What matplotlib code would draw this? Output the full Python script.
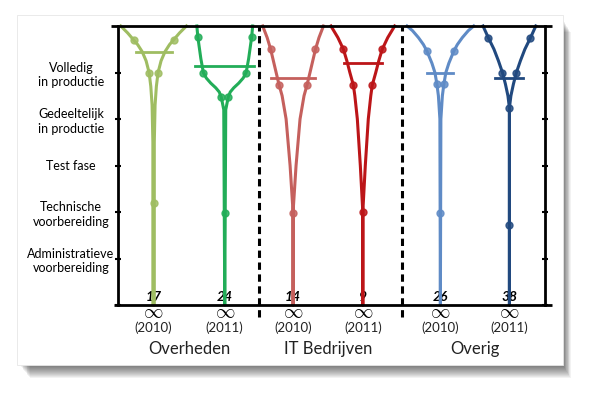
import matplotlib
matplotlib.use("Agg")
import matplotlib.pyplot as plt
from matplotlib.patches import Rectangle
import numpy as np

plt.rcParams['font.family'] = ['Lato', 'DejaVu Sans']
plt.rcParams['mathtext.fontset'] = 'cm'

# ---------------- data ----------------
groups = ["Overheden", "IT Bedrijven", "Overig"]
years = ["(2010)", "(2011)", "(2010)", "(2011)", "(2010)", "(2011)"]
counts = ["17", "24", "14", "9", "26", "38"]
stage_labels = ["", "Administratieve\nvoorbereiding", "Technische\nvoorbereiding",
                "Test fase", "Gedeeltelijk\nin productie", "Volledig\nin productie"]
colors = ["#9fbd62", "#22ad58", "#c5605d", "#bc1518", "#5f8bc6", "#21497f"]

# profile of each shape: levels and half-widths (x units)
g1_lev = [0, 3.5, 4.3, 4.7, 5.0, 5.25, 5.45, 5.6, 5.7, 5.85, 6.0]
g1_hw = [0.01, 0.01, 0.021, 0.039, 0.063, 0.105, 0.161, 0.224, 0.280, 0.364, 0.462]
g2_lev = [0, 4.2, 4.47, 4.58, 4.67, 4.77, 4.88, 5.0, 5.3, 5.76, 6.0]
g2_hw = [0, 0.014, 0.049, 0.077, 0.126, 0.196, 0.259, 0.301, 0.336, 0.378, 0.392]
r1_lev = [0, 2.0, 2.5, 3.0, 3.5, 4.0, 4.5, 4.73, 5.0, 5.5, 5.75, 6.0]
r1_hw = [0, 0, 0.021, 0.042, 0.070, 0.098, 0.154, 0.196, 0.238, 0.315, 0.364, 0.427]
r2_lev = [0, 2.0, 3.0, 4.0, 4.5, 4.73, 5.0, 5.25, 5.5, 5.75, 6.0]
r2_hw = [0, 0, 0.035, 0.077, 0.112, 0.133, 0.182, 0.224, 0.273, 0.350, 0.448]
b1_lev = [0, 4.0, 4.5, 4.75, 5.0, 5.2, 5.46, 5.6, 5.75, 5.9, 6.0]
b1_hw = [0, 0.007, 0.028, 0.049, 0.077, 0.119, 0.189, 0.238, 0.308, 0.392, 0.469]
b2_lev = [0, 4.24, 4.5, 4.75, 5.0, 5.25, 5.5, 5.74, 6.0]
b2_hw = [0, 0, 0.021, 0.056, 0.098, 0.154, 0.217, 0.294, 0.371]

# marker points: levels and half-widths
g1_mk_lev = [2.2, 5.0, 5.7];          g1_mk_hw = [0, 0.063, 0.280]
g2_mk_lev = [1.98, 4.47, 5.0, 5.76];  g2_mk_hw = [0, 0.049, 0.301, 0.378]
r1_mk_lev = [1.98, 4.73, 5.5];        r1_mk_hw = [0, 0.196, 0.315]
r2_mk_lev = [2.0, 4.73, 5.5];         r2_mk_hw = [0, 0.133, 0.273]
b1_mk_lev = [1.98, 4.75, 5.46];       b1_mk_hw = [0, 0.049, 0.189]
b2_mk_lev = [1.72, 4.24, 5.0, 5.74];  b2_mk_hw = [0, 0, 0.098, 0.294]

# mean bars: level and half length
mean_lev = [5.44, 5.13, 4.88, 5.2, 5.0, 4.88]
mean_half = [0.252, 0.413, 0.308, 0.266, 0.182, 0.196]

profiles = [(g1_lev, g1_hw), (g2_lev, g2_hw), (r1_lev, r1_hw),
            (r2_lev, r2_hw), (b1_lev, b1_hw), (b2_lev, b2_hw)]
markers = [(g1_mk_lev, g1_mk_hw), (g2_mk_lev, g2_mk_hw), (r1_mk_lev, r1_mk_hw),
           (r2_mk_lev, r2_mk_hw), (b1_mk_lev, b1_mk_hw), (b2_mk_lev, b2_mk_hw)]

# ---------------- layout ----------------
positions = [1.0, 2.0, 2.96, 3.94, 5.03, 6.0]
W, H = 595, 396
fig = plt.figure(figsize=(W / 100, H / 100), dpi=100)
fig.patch.set_facecolor("white")

# card with drop shadow
bx0, by0, bx1, by1 = 17, 15, 563, 365
for i in range(12):
    dy = 2 + i * 1.0
    dx = 1 + i * 0.6
    fig.patches.append(Rectangle(((bx0 + 4 + i * 0.8) / W, (H - by1 - dy) / H),
                                 (bx1 - bx0 - 4 + dx - i * 0.8) / W, (by1 - by0 - 4) / H,
                                 transform=fig.transFigure, facecolor="#000000",
                                 alpha=0.05, edgecolor="none", zorder=0))
fig.patches.append(Rectangle((bx0 / W, (H - by1) / H), (bx1 - bx0) / W, (by1 - by0) / H,
                             transform=fig.transFigure, facecolor="white",
                             edgecolor="#e6e6e6", lw=0.6, zorder=1))

ax = fig.add_axes([118 / W, (H - 305) / H, (545 - 118) / W, (305 - 26) / H])
ax.set_facecolor("none")
ax.set_zorder(2)
ax.set_xlim(0.5, 6.5)
ax.set_ylim(0, 6)

for s in ["top", "bottom"]:
    ax.spines[s].set_visible(False)
for s in ["left", "right"]:
    ax.spines[s].set_linewidth(2)
    ax.spines[s].set_color("black")

# top and bottom rules extending past the spines
ax.plot([0.40, 6.60], [6, 6], color="black", lw=2, clip_on=False, zorder=5,
        solid_capstyle="butt")
ax.plot([0.45, 6.60], [0, 0], color="black", lw=2, clip_on=False, zorder=5,
        solid_capstyle="butt")

# separators
for i in (1, 3):
    xs = (positions[i] + positions[i + 1]) / 2
    ax.plot([xs, xs], [-0.25, 6], color="black", lw=2.2, clip_on=False,
            dashes=(2.4, 1.5), zorder=3)

# shapes
for c, (lev, hw), (mlev, mhw), col, ml, mh in zip(positions, profiles, markers,
                                                  colors, mean_lev, mean_half):
    lev = np.asarray(lev); hw = np.asarray(hw)
    xs = np.concatenate([c - hw[::-1], c + hw])
    ys = np.concatenate([lev[::-1], lev])
    ax.plot(xs, ys, color=col, lw=2.2, zorder=4, solid_joinstyle="round",
            clip_on=False)
    ax.plot([c - mh, c + mh], [ml, ml], color=col, lw=2, zorder=4)
    mlev = np.asarray(mlev); mhw = np.asarray(mhw)
    mx = np.concatenate([c - mhw, c + mhw[mhw > 0]])
    my = np.concatenate([mlev, mlev[mhw > 0]])
    ax.plot(mx, my, "o", ms=5, color=col, mfc=col, mec=col, alpha=0.85, zorder=6)

# ticks and labels
ax.set_xticks([])
ax.set_yticks(range(6))
ax.set_yticklabels(stage_labels, fontsize=9, linespacing=1.3)
ax.tick_params(axis="y", direction="inout", length=5, width=1.5, right=True,
               labelright=False, pad=31.3, colors="black")
for lbl in ax.get_yticklabels():
    lbl.set_ha("center")
    lbl.set_multialignment("center")

tr = ax.get_xaxis_transform()
for c, n, yr in zip(positions, counts, years):
    ax.text(c, 0.03, n, transform=tr, ha="center", va="center", fontsize=10,
            fontweight="bold", fontstyle="italic", zorder=3)
    ax.text(c, -0.027, r"$\infty$", transform=tr, ha="center", va="center",
            fontsize=14, clip_on=False)
    ax.text(c, -0.083, yr, transform=tr, ha="center", va="center", fontsize=9.5,
            color="#222222")
for gi, g in enumerate(groups):
    gx = (positions[2 * gi] + positions[2 * gi + 1]) / 2
    ax.text(gx, -0.158, g, transform=tr, ha="center", va="center", fontsize=12,
            color="#222222")

fig.savefig("out.png", dpi=100)
